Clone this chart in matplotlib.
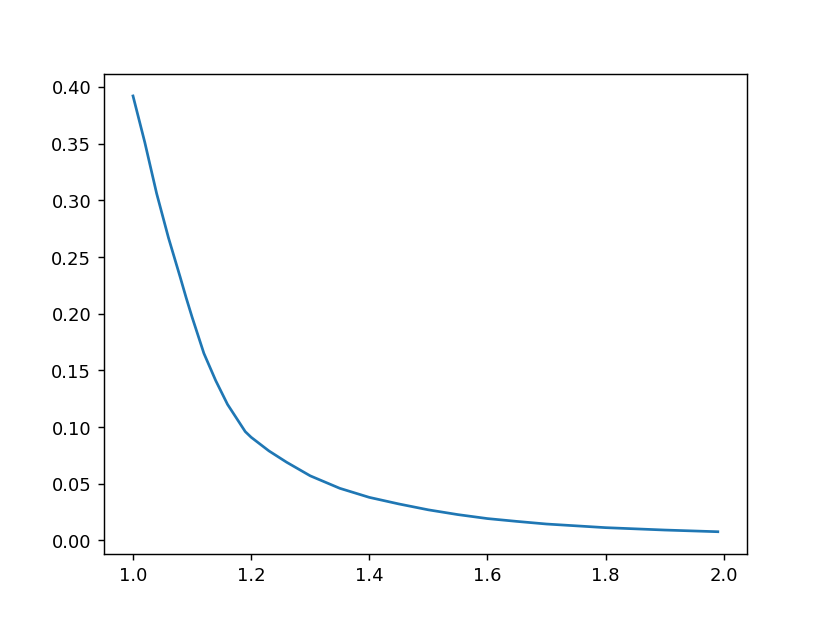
import numpy as np
from matplotlib import pyplot as plt

# values
x_vals = [1.00, 1.02, 1.04, 1.06, 1.08, 1.09, 1.10, 1.12, 1.14, 1.16, 1.18, 1.19,
          1.20, 1.23, 1.26, 1.30, 1.35, 1.40, 1.45, 1.50, 1.55, 1.60, 1.65, 1.70,
          1.80, 1.90, 1.99]
y_vals = [0.392, 0.351, 0.306, 0.267, 0.232, 0.214, 0.197, 0.165, 0.141, 0.120, 0.104, 0.096,
          0.091, 0.079, 0.069, 0.057, 0.046, 0.038, 0.0322, 0.027, 0.0228, 0.0193, 0.0168,
          0.0145, 0.0113, 0.0092, 0.0077]

fig, ax = plt.subplots(figsize=(6.4, 4.8), dpi=129.7)
ax.plot(x_vals, y_vals)

plt.savefig("out.png")
